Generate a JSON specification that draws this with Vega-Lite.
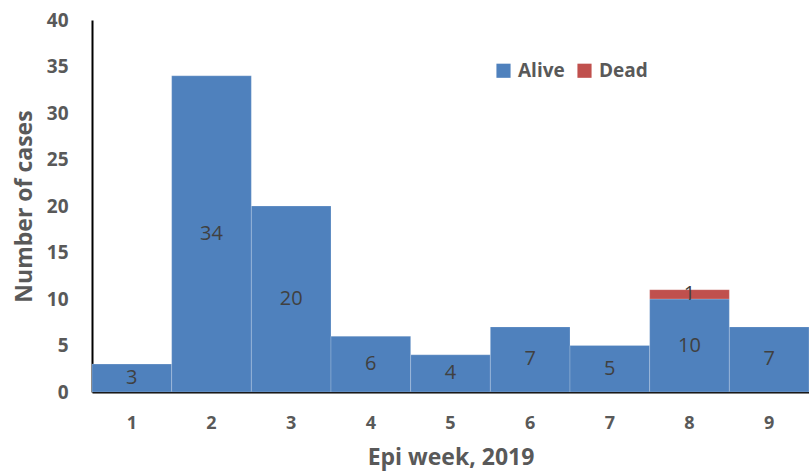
{
  "$schema": "https://vega.github.io/schema/vega-lite/v6.json",
  "width": 717,
  "height": 372,
  "autosize": {"type": "none"},
  "padding": {"left": 92, "top": 20, "right": 0, "bottom": 81},
  "config": {"view": {"stroke": null}, "font": "Open Sans"},
  "data": {
    "values": [
      {"week": "1", "status": "Alive", "cases": 3},
      {"week": "2", "status": "Alive", "cases": 34},
      {"week": "3", "status": "Alive", "cases": 20},
      {"week": "4", "status": "Alive", "cases": 6},
      {"week": "5", "status": "Alive", "cases": 4},
      {"week": "6", "status": "Alive", "cases": 7},
      {"week": "7", "status": "Alive", "cases": 5},
      {"week": "8", "status": "Alive", "cases": 10},
      {"week": "8", "status": "Dead", "cases": 1},
      {"week": "9", "status": "Alive", "cases": 7}
    ]
  },
  "transform": [
    {"calculate": "datum.status === 'Alive' ? 0 : 1", "as": "order"},
    {"stack": "cases", "groupby": ["week"], "sort": [{"field": "order"}], "as": ["y0", "y1"]},
    {"calculate": "(datum.y0 + datum.y1) / 2", "as": "ymid"}
  ],
  "encoding": {
    "x": {
      "field": "week",
      "type": "ordinal",
      "scale": {"paddingInner": 0, "paddingOuter": 0},
      "axis": {
        "title": "Epi week, 2019",
        "labelAngle": 0,
        "labelFontSize": 18,
        "labelFontWeight": "bold",
        "labelColor": "#595959",
        "labelPadding": 22,
        "ticks": false,
        "domainColor": "#000000",
        "domainWidth": 2,
        "titleFontSize": 23,
        "titleFontWeight": "bold",
        "titleColor": "#595959",
        "titlePadding": 14
      }
    }
  },
  "layer": [
    {
      "mark": {"type": "bar", "stroke": "#ffffff", "strokeOpacity": 0.2, "strokeWidth": 1},
      "encoding": {
        "y": {
          "field": "y0",
          "type": "quantitative",
          "scale": {"domain": [0, 40]},
          "axis": {
            "title": "Number of cases",
            "values": [0, 5, 10, 15, 20, 25, 30, 35, 40],
            "grid": false,
            "ticks": false,
            "labelFontSize": 19,
            "labelFontWeight": "bold",
            "labelColor": "#595959",
            "labelPadding": 24,
            "domainColor": "#000000",
            "domainWidth": 2,
            "titleFontSize": 23,
            "titleFontWeight": "bold",
            "titleColor": "#595959",
            "titlePadding": 10
          }
        },
        "y2": {"field": "y1"},
        "color": {
          "field": "status",
          "type": "nominal",
          "scale": {"domain": ["Alive", "Dead"], "range": ["#4f81bd", "#c0504d"]},
          "legend": {
            "title": null,
            "orient": "none",
            "legendX": 402,
            "legendY": 41,
            "direction": "horizontal",
            "symbolType": "square",
            "symbolSize": 200,
            "symbolStrokeWidth": 0,
            "labelFontSize": 19,
            "labelFontWeight": "bold",
            "labelColor": "#595959",
            "columnPadding": 10,
            "labelOffset": 5
          }
        }
      }
    },
    {
      "mark": {"type": "text", "fontSize": 20, "color": "#404040"},
      "encoding": {
        "y": {"field": "ymid", "type": "quantitative"},
        "text": {"field": "cases", "type": "quantitative"}
      }
    }
  ]
}
